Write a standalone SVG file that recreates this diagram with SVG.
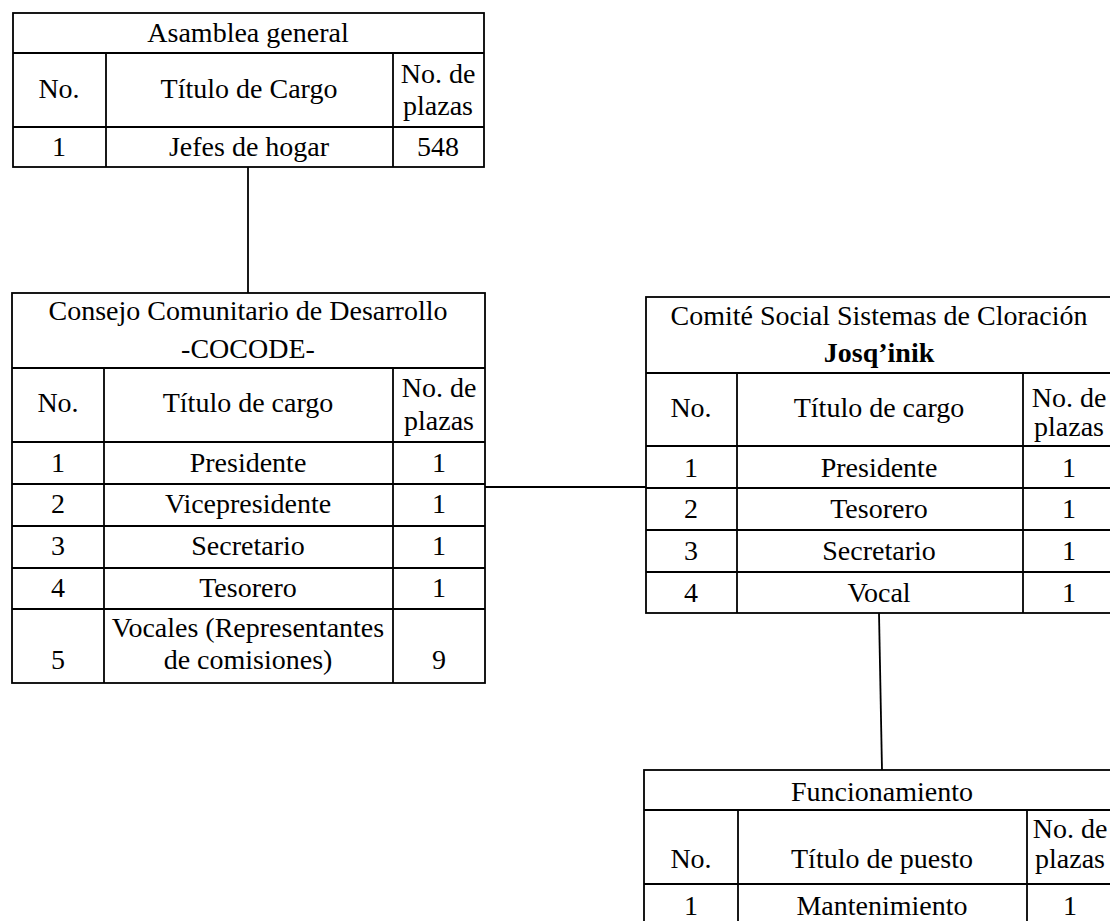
<svg xmlns="http://www.w3.org/2000/svg" width="1110" height="921" viewBox="0 0 1110 921">
<style>
.b{fill:#fff;stroke:#000;stroke-width:1.8}
.l{stroke:#000;stroke-width:1.8;fill:none}
text{font-family:"Liberation Serif","Times New Roman",serif;font-size:28px;fill:#000;text-anchor:middle}
.bold{font-weight:bold}
</style>
<rect width="1110" height="921" fill="#fff"/>
<g id="connectors">
<line class="l" x1="248" y1="167" x2="248" y2="293"/>
<line class="l" x1="485" y1="487" x2="646" y2="487"/>
<line class="l" x1="879" y1="613" x2="882" y2="770"/>
</g>
<g id="asamblea">
<rect class="b" x="13" y="13" width="471" height="154"/>
<line class="l" x1="13" y1="53" x2="484" y2="53"/>
<line class="l" x1="13" y1="127" x2="484" y2="127"/>
<line class="l" x1="106" y1="53" x2="106" y2="167"/>
<line class="l" x1="393" y1="53" x2="393" y2="167"/>
<text x="248" y="42">Asamblea general</text>
<text x="59" y="98">No.</text>
<text x="249" y="98">Título de Cargo</text>
<text x="438" y="83">No. de</text>
<text x="438" y="115">plazas</text>
<text x="59" y="156">1</text>
<text x="249" y="156">Jefes de hogar</text>
<text x="438" y="156">548</text>
</g>
<g id="cocode">
<rect class="b" x="12" y="293" width="473" height="390"/>
<line class="l" x1="12" y1="368" x2="485" y2="368"/>
<line class="l" x1="12" y1="442" x2="485" y2="442"/>
<line class="l" x1="12" y1="484" x2="485" y2="484"/>
<line class="l" x1="12" y1="526" x2="485" y2="526"/>
<line class="l" x1="12" y1="568" x2="485" y2="568"/>
<line class="l" x1="12" y1="609" x2="485" y2="609"/>
<line class="l" x1="104" y1="368" x2="104" y2="683"/>
<line class="l" x1="393" y1="368" x2="393" y2="683"/>
<text x="248" y="320">Consejo Comunitario de Desarrollo</text>
<text x="248" y="358">-COCODE-</text>
<text x="58" y="412">No.</text>
<text x="248" y="412">Título de cargo</text>
<text x="439" y="397">No. de</text>
<text x="439" y="430">plazas</text>
<text x="58" y="472">1</text>
<text x="248" y="472">Presidente</text>
<text x="439" y="472">1</text>
<text x="58" y="513">2</text>
<text x="248" y="513">Vicepresidente</text>
<text x="439" y="513">1</text>
<text x="58" y="555">3</text>
<text x="248" y="555">Secretario</text>
<text x="439" y="555">1</text>
<text x="58" y="597">4</text>
<text x="248" y="597">Tesorero</text>
<text x="439" y="597">1</text>
<text x="248" y="637">Vocales (Representantes</text>
<text x="58" y="669">5</text>
<text x="248" y="669">de comisiones)</text>
<text x="439" y="669">9</text>
</g>
<g id="comite">
<rect class="b" x="646" y="297" width="467" height="316"/>
<line class="l" x1="646" y1="373" x2="1113" y2="373"/>
<line class="l" x1="646" y1="446" x2="1113" y2="446"/>
<line class="l" x1="646" y1="488" x2="1113" y2="488"/>
<line class="l" x1="646" y1="530" x2="1113" y2="530"/>
<line class="l" x1="646" y1="572" x2="1113" y2="572"/>
<line class="l" x1="737" y1="373" x2="737" y2="613"/>
<line class="l" x1="1023" y1="373" x2="1023" y2="613"/>
<text x="879" y="325">Comité Social Sistemas de Cloración</text>
<text class="bold" x="879" y="362">Josq’inik</text>
<text x="691" y="417">No.</text>
<text x="879" y="417">Título de cargo</text>
<text x="1069" y="407">No. de</text>
<text x="1069" y="436">plazas</text>
<text x="691" y="477">1</text>
<text x="879" y="477">Presidente</text>
<text x="1069" y="477">1</text>
<text x="691" y="518">2</text>
<text x="879" y="518">Tesorero</text>
<text x="1069" y="518">1</text>
<text x="691" y="560">3</text>
<text x="879" y="560">Secretario</text>
<text x="1069" y="560">1</text>
<text x="691" y="602">4</text>
<text x="879" y="602">Vocal</text>
<text x="1069" y="602">1</text>
</g>
<g id="funcionamiento">
<rect class="b" x="644" y="770" width="474" height="170"/>
<line class="l" x1="644" y1="810" x2="1118" y2="810"/>
<line class="l" x1="644" y1="884" x2="1118" y2="884"/>
<line class="l" x1="738" y1="810" x2="738" y2="940"/>
<line class="l" x1="1027" y1="810" x2="1027" y2="940"/>
<text x="882" y="801">Funcionamiento</text>
<text x="691" y="868">No.</text>
<text x="882" y="868">Título de puesto</text>
<text x="1070" y="838">No. de</text>
<text x="1070" y="868">plazas</text>
<text x="691" y="915">1</text>
<text x="882" y="915">Mantenimiento</text>
<text x="1070" y="915">1</text>
</g>
</svg>
